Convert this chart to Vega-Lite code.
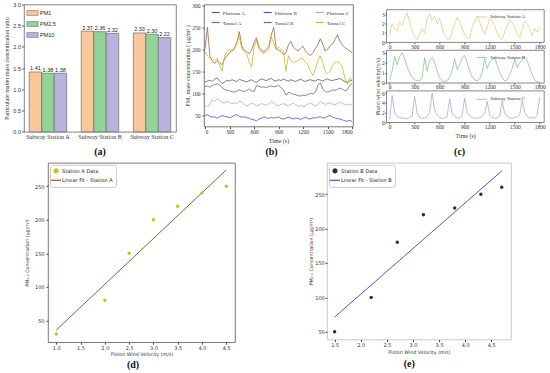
{"$schema":"https://vega.github.io/schema/vega-lite/v6.json","background":"white","padding":{"left":3,"top":1.5,"right":0,"bottom":0},"config":{"view":{"stroke":null},"axis":{"grid":false}},
"datasets":{
"bars":[{"station":"Subway Station A","pm":"PM1","ratio":1.41},{"station":"Subway Station A","pm":"PM2.5","ratio":1.38},{"station":"Subway Station A","pm":"PM10","ratio":1.38},{"station":"Subway Station B","pm":"PM1","ratio":2.37},{"station":"Subway Station B","pm":"PM2.5","ratio":2.36},{"station":"Subway Station B","pm":"PM10","ratio":2.32},{"station":"Subway Station C","pm":"PM1","ratio":2.33},{"station":"Subway Station C","pm":"PM2.5","ratio":2.30},{"station":"Subway Station C","pm":"PM10","ratio":2.22}],
"ts":[
{"series":"Platform A","t":0,"v":125},{"series":"Platform A","t":30,"v":128},{"series":"Platform A","t":60,"v":130},{"series":"Platform A","t":90,"v":127},{"series":"Platform A","t":120,"v":133},{"series":"Platform A","t":150,"v":135},{"series":"Platform A","t":180,"v":128},{"series":"Platform A","t":210,"v":122},{"series":"Platform A","t":240,"v":126},{"series":"Platform A","t":270,"v":130},{"series":"Platform A","t":300,"v":128},{"series":"Platform A","t":330,"v":131},{"series":"Platform A","t":360,"v":129},{"series":"Platform A","t":390,"v":127},{"series":"Platform A","t":420,"v":132},{"series":"Platform A","t":450,"v":130},{"series":"Platform A","t":480,"v":128},{"series":"Platform A","t":510,"v":126},{"series":"Platform A","t":540,"v":129},{"series":"Platform A","t":570,"v":131},{"series":"Platform A","t":600,"v":127},{"series":"Platform A","t":630,"v":125},{"series":"Platform A","t":660,"v":130},{"series":"Platform A","t":690,"v":133},{"series":"Platform A","t":720,"v":131},{"series":"Platform A","t":750,"v":129},{"series":"Platform A","t":780,"v":132},{"series":"Platform A","t":810,"v":134},{"series":"Platform A","t":840,"v":130},{"series":"Platform A","t":870,"v":128},{"series":"Platform A","t":900,"v":131},{"series":"Platform A","t":930,"v":129},{"series":"Platform A","t":960,"v":133},{"series":"Platform A","t":990,"v":130},{"series":"Platform A","t":1020,"v":128},{"series":"Platform A","t":1050,"v":131},{"series":"Platform A","t":1080,"v":129},{"series":"Platform A","t":1110,"v":127},{"series":"Platform A","t":1140,"v":130},{"series":"Platform A","t":1170,"v":132},{"series":"Platform A","t":1200,"v":129},{"series":"Platform A","t":1230,"v":127},{"series":"Platform A","t":1260,"v":130},{"series":"Platform A","t":1290,"v":131},{"series":"Platform A","t":1320,"v":129},{"series":"Platform A","t":1350,"v":128},{"series":"Platform A","t":1380,"v":132},{"series":"Platform A","t":1410,"v":130},{"series":"Platform A","t":1440,"v":128},{"series":"Platform A","t":1470,"v":131},{"series":"Platform A","t":1500,"v":133},{"series":"Platform A","t":1530,"v":130},{"series":"Platform A","t":1560,"v":129},{"series":"Platform A","t":1590,"v":131},{"series":"Platform A","t":1620,"v":132},{"series":"Platform A","t":1650,"v":134},{"series":"Platform A","t":1680,"v":130},{"series":"Platform A","t":1710,"v":127},{"series":"Platform A","t":1740,"v":125},{"series":"Platform A","t":1770,"v":128},{"series":"Platform A","t":1800,"v":130},
{"series":"Tunnel A","t":0,"v":200},{"series":"Tunnel A","t":30,"v":250},{"series":"Tunnel A","t":60,"v":185},{"series":"Tunnel A","t":90,"v":172},{"series":"Tunnel A","t":120,"v":168},{"series":"Tunnel A","t":150,"v":175},{"series":"Tunnel A","t":180,"v":170},{"series":"Tunnel A","t":210,"v":165},{"series":"Tunnel A","t":240,"v":178},{"series":"Tunnel A","t":270,"v":185},{"series":"Tunnel A","t":300,"v":192},{"series":"Tunnel A","t":330,"v":198},{"series":"Tunnel A","t":360,"v":202},{"series":"Tunnel A","t":390,"v":215},{"series":"Tunnel A","t":420,"v":240},{"series":"Tunnel A","t":450,"v":208},{"series":"Tunnel A","t":480,"v":198},{"series":"Tunnel A","t":510,"v":195},{"series":"Tunnel A","t":540,"v":190},{"series":"Tunnel A","t":570,"v":198},{"series":"Tunnel A","t":600,"v":215},{"series":"Tunnel A","t":630,"v":226},{"series":"Tunnel A","t":660,"v":205},{"series":"Tunnel A","t":690,"v":198},{"series":"Tunnel A","t":720,"v":194},{"series":"Tunnel A","t":750,"v":200},{"series":"Tunnel A","t":780,"v":206},{"series":"Tunnel A","t":810,"v":232},{"series":"Tunnel A","t":840,"v":250},{"series":"Tunnel A","t":870,"v":202},{"series":"Tunnel A","t":900,"v":198},{"series":"Tunnel A","t":930,"v":195},{"series":"Tunnel A","t":960,"v":188},{"series":"Tunnel A","t":990,"v":192},{"series":"Tunnel A","t":1020,"v":210},{"series":"Tunnel A","t":1050,"v":218},{"series":"Tunnel A","t":1080,"v":205},{"series":"Tunnel A","t":1110,"v":200},{"series":"Tunnel A","t":1140,"v":196},{"series":"Tunnel A","t":1170,"v":203},{"series":"Tunnel A","t":1200,"v":207},{"series":"Tunnel A","t":1230,"v":196},{"series":"Tunnel A","t":1260,"v":190},{"series":"Tunnel A","t":1290,"v":186},{"series":"Tunnel A","t":1320,"v":192},{"series":"Tunnel A","t":1350,"v":202},{"series":"Tunnel A","t":1380,"v":210},{"series":"Tunnel A","t":1410,"v":224},{"series":"Tunnel A","t":1440,"v":212},{"series":"Tunnel A","t":1470,"v":196},{"series":"Tunnel A","t":1500,"v":200},{"series":"Tunnel A","t":1530,"v":208},{"series":"Tunnel A","t":1560,"v":212},{"series":"Tunnel A","t":1590,"v":222},{"series":"Tunnel A","t":1620,"v":233},{"series":"Tunnel A","t":1650,"v":218},{"series":"Tunnel A","t":1680,"v":210},{"series":"Tunnel A","t":1710,"v":204},{"series":"Tunnel A","t":1740,"v":200},{"series":"Tunnel A","t":1770,"v":196},{"series":"Tunnel A","t":1800,"v":192},
{"series":"Platform B","t":0,"v":50},{"series":"Platform B","t":30,"v":52},{"series":"Platform B","t":60,"v":48},{"series":"Platform B","t":90,"v":46},{"series":"Platform B","t":120,"v":47},{"series":"Platform B","t":150,"v":44},{"series":"Platform B","t":180,"v":47},{"series":"Platform B","t":210,"v":50},{"series":"Platform B","t":240,"v":48},{"series":"Platform B","t":270,"v":47},{"series":"Platform B","t":300,"v":45},{"series":"Platform B","t":330,"v":47},{"series":"Platform B","t":360,"v":50},{"series":"Platform B","t":390,"v":52},{"series":"Platform B","t":420,"v":48},{"series":"Platform B","t":450,"v":46},{"series":"Platform B","t":480,"v":47},{"series":"Platform B","t":510,"v":45},{"series":"Platform B","t":540,"v":44},{"series":"Platform B","t":570,"v":41},{"series":"Platform B","t":600,"v":40},{"series":"Platform B","t":630,"v":38},{"series":"Platform B","t":660,"v":42},{"series":"Platform B","t":690,"v":44},{"series":"Platform B","t":720,"v":47},{"series":"Platform B","t":750,"v":45},{"series":"Platform B","t":780,"v":43},{"series":"Platform B","t":810,"v":46},{"series":"Platform B","t":840,"v":44},{"series":"Platform B","t":870,"v":45},{"series":"Platform B","t":900,"v":47},{"series":"Platform B","t":930,"v":43},{"series":"Platform B","t":960,"v":42},{"series":"Platform B","t":990,"v":44},{"series":"Platform B","t":1020,"v":46},{"series":"Platform B","t":1050,"v":44},{"series":"Platform B","t":1080,"v":42},{"series":"Platform B","t":1110,"v":44},{"series":"Platform B","t":1140,"v":43},{"series":"Platform B","t":1170,"v":41},{"series":"Platform B","t":1200,"v":44},{"series":"Platform B","t":1230,"v":46},{"series":"Platform B","t":1260,"v":43},{"series":"Platform B","t":1290,"v":42},{"series":"Platform B","t":1320,"v":45},{"series":"Platform B","t":1350,"v":44},{"series":"Platform B","t":1380,"v":46},{"series":"Platform B","t":1410,"v":47},{"series":"Platform B","t":1440,"v":44},{"series":"Platform B","t":1470,"v":45},{"series":"Platform B","t":1500,"v":48},{"series":"Platform B","t":1530,"v":50},{"series":"Platform B","t":1560,"v":46},{"series":"Platform B","t":1590,"v":44},{"series":"Platform B","t":1620,"v":43},{"series":"Platform B","t":1650,"v":42},{"series":"Platform B","t":1680,"v":40},{"series":"Platform B","t":1710,"v":38},{"series":"Platform B","t":1740,"v":37},{"series":"Platform B","t":1770,"v":39},{"series":"Platform B","t":1800,"v":36},
{"series":"Tunnel B","t":0,"v":115},{"series":"Tunnel B","t":30,"v":117},{"series":"Tunnel B","t":60,"v":114},{"series":"Tunnel B","t":90,"v":118},{"series":"Tunnel B","t":120,"v":120},{"series":"Tunnel B","t":150,"v":122},{"series":"Tunnel B","t":180,"v":119},{"series":"Tunnel B","t":210,"v":113},{"series":"Tunnel B","t":240,"v":109},{"series":"Tunnel B","t":270,"v":107},{"series":"Tunnel B","t":300,"v":106},{"series":"Tunnel B","t":330,"v":104},{"series":"Tunnel B","t":360,"v":103},{"series":"Tunnel B","t":390,"v":105},{"series":"Tunnel B","t":420,"v":108},{"series":"Tunnel B","t":450,"v":106},{"series":"Tunnel B","t":480,"v":104},{"series":"Tunnel B","t":510,"v":107},{"series":"Tunnel B","t":540,"v":110},{"series":"Tunnel B","t":570,"v":106},{"series":"Tunnel B","t":600,"v":104},{"series":"Tunnel B","t":630,"v":118},{"series":"Tunnel B","t":660,"v":116},{"series":"Tunnel B","t":690,"v":114},{"series":"Tunnel B","t":720,"v":115},{"series":"Tunnel B","t":750,"v":113},{"series":"Tunnel B","t":780,"v":116},{"series":"Tunnel B","t":810,"v":117},{"series":"Tunnel B","t":840,"v":115},{"series":"Tunnel B","t":870,"v":116},{"series":"Tunnel B","t":900,"v":118},{"series":"Tunnel B","t":930,"v":113},{"series":"Tunnel B","t":960,"v":108},{"series":"Tunnel B","t":990,"v":96},{"series":"Tunnel B","t":1020,"v":102},{"series":"Tunnel B","t":1050,"v":101},{"series":"Tunnel B","t":1080,"v":98},{"series":"Tunnel B","t":1110,"v":97},{"series":"Tunnel B","t":1140,"v":95},{"series":"Tunnel B","t":1170,"v":94},{"series":"Tunnel B","t":1200,"v":96},{"series":"Tunnel B","t":1230,"v":95},{"series":"Tunnel B","t":1260,"v":98},{"series":"Tunnel B","t":1290,"v":100},{"series":"Tunnel B","t":1320,"v":99},{"series":"Tunnel B","t":1350,"v":103},{"series":"Tunnel B","t":1380,"v":118},{"series":"Tunnel B","t":1410,"v":124},{"series":"Tunnel B","t":1440,"v":110},{"series":"Tunnel B","t":1470,"v":104},{"series":"Tunnel B","t":1500,"v":103},{"series":"Tunnel B","t":1530,"v":105},{"series":"Tunnel B","t":1560,"v":108},{"series":"Tunnel B","t":1590,"v":107},{"series":"Tunnel B","t":1620,"v":109},{"series":"Tunnel B","t":1650,"v":112},{"series":"Tunnel B","t":1680,"v":110},{"series":"Tunnel B","t":1710,"v":106},{"series":"Tunnel B","t":1740,"v":108},{"series":"Tunnel B","t":1770,"v":118},{"series":"Tunnel B","t":1800,"v":122},
{"series":"Platform C","t":0,"v":72},{"series":"Platform C","t":30,"v":70},{"series":"Platform C","t":60,"v":76},{"series":"Platform C","t":90,"v":85},{"series":"Platform C","t":120,"v":82},{"series":"Platform C","t":150,"v":88},{"series":"Platform C","t":180,"v":84},{"series":"Platform C","t":210,"v":80},{"series":"Platform C","t":240,"v":78},{"series":"Platform C","t":270,"v":82},{"series":"Platform C","t":300,"v":80},{"series":"Platform C","t":330,"v":76},{"series":"Platform C","t":360,"v":79},{"series":"Platform C","t":390,"v":77},{"series":"Platform C","t":420,"v":83},{"series":"Platform C","t":450,"v":80},{"series":"Platform C","t":480,"v":75},{"series":"Platform C","t":510,"v":72},{"series":"Platform C","t":540,"v":74},{"series":"Platform C","t":570,"v":78},{"series":"Platform C","t":600,"v":76},{"series":"Platform C","t":630,"v":72},{"series":"Platform C","t":660,"v":74},{"series":"Platform C","t":690,"v":77},{"series":"Platform C","t":720,"v":75},{"series":"Platform C","t":750,"v":73},{"series":"Platform C","t":780,"v":76},{"series":"Platform C","t":810,"v":82},{"series":"Platform C","t":840,"v":78},{"series":"Platform C","t":870,"v":74},{"series":"Platform C","t":900,"v":72},{"series":"Platform C","t":930,"v":75},{"series":"Platform C","t":960,"v":77},{"series":"Platform C","t":990,"v":74},{"series":"Platform C","t":1020,"v":72},{"series":"Platform C","t":1050,"v":75},{"series":"Platform C","t":1080,"v":78},{"series":"Platform C","t":1110,"v":74},{"series":"Platform C","t":1140,"v":71},{"series":"Platform C","t":1170,"v":73},{"series":"Platform C","t":1200,"v":70},{"series":"Platform C","t":1230,"v":72},{"series":"Platform C","t":1260,"v":76},{"series":"Platform C","t":1290,"v":78},{"series":"Platform C","t":1320,"v":75},{"series":"Platform C","t":1350,"v":72},{"series":"Platform C","t":1380,"v":74},{"series":"Platform C","t":1410,"v":82},{"series":"Platform C","t":1440,"v":78},{"series":"Platform C","t":1470,"v":75},{"series":"Platform C","t":1500,"v":77},{"series":"Platform C","t":1530,"v":79},{"series":"Platform C","t":1560,"v":76},{"series":"Platform C","t":1590,"v":74},{"series":"Platform C","t":1620,"v":78},{"series":"Platform C","t":1650,"v":80},{"series":"Platform C","t":1680,"v":77},{"series":"Platform C","t":1710,"v":75},{"series":"Platform C","t":1740,"v":73},{"series":"Platform C","t":1770,"v":76},{"series":"Platform C","t":1800,"v":74},
{"series":"Tunnel C","t":0,"v":195},{"series":"Tunnel C","t":30,"v":185},{"series":"Tunnel C","t":60,"v":180},{"series":"Tunnel C","t":90,"v":176},{"series":"Tunnel C","t":120,"v":175},{"series":"Tunnel C","t":150,"v":180},{"series":"Tunnel C","t":180,"v":162},{"series":"Tunnel C","t":210,"v":150},{"series":"Tunnel C","t":240,"v":185},{"series":"Tunnel C","t":270,"v":195},{"series":"Tunnel C","t":300,"v":200},{"series":"Tunnel C","t":330,"v":195},{"series":"Tunnel C","t":360,"v":200},{"series":"Tunnel C","t":390,"v":215},{"series":"Tunnel C","t":420,"v":230},{"series":"Tunnel C","t":450,"v":200},{"series":"Tunnel C","t":480,"v":195},{"series":"Tunnel C","t":510,"v":190},{"series":"Tunnel C","t":540,"v":172},{"series":"Tunnel C","t":570,"v":160},{"series":"Tunnel C","t":600,"v":205},{"series":"Tunnel C","t":630,"v":220},{"series":"Tunnel C","t":660,"v":200},{"series":"Tunnel C","t":690,"v":195},{"series":"Tunnel C","t":720,"v":190},{"series":"Tunnel C","t":750,"v":195},{"series":"Tunnel C","t":780,"v":200},{"series":"Tunnel C","t":810,"v":228},{"series":"Tunnel C","t":840,"v":214},{"series":"Tunnel C","t":870,"v":200},{"series":"Tunnel C","t":900,"v":205},{"series":"Tunnel C","t":930,"v":200},{"series":"Tunnel C","t":960,"v":195},{"series":"Tunnel C","t":990,"v":150},{"series":"Tunnel C","t":1020,"v":185},{"series":"Tunnel C","t":1050,"v":175},{"series":"Tunnel C","t":1080,"v":170},{"series":"Tunnel C","t":1110,"v":172},{"series":"Tunnel C","t":1140,"v":175},{"series":"Tunnel C","t":1170,"v":180},{"series":"Tunnel C","t":1200,"v":178},{"series":"Tunnel C","t":1230,"v":170},{"series":"Tunnel C","t":1260,"v":165},{"series":"Tunnel C","t":1290,"v":150},{"series":"Tunnel C","t":1320,"v":140},{"series":"Tunnel C","t":1350,"v":155},{"series":"Tunnel C","t":1380,"v":175},{"series":"Tunnel C","t":1410,"v":185},{"series":"Tunnel C","t":1440,"v":170},{"series":"Tunnel C","t":1470,"v":150},{"series":"Tunnel C","t":1500,"v":145},{"series":"Tunnel C","t":1530,"v":150},{"series":"Tunnel C","t":1560,"v":165},{"series":"Tunnel C","t":1590,"v":170},{"series":"Tunnel C","t":1620,"v":172},{"series":"Tunnel C","t":1650,"v":168},{"series":"Tunnel C","t":1680,"v":160},{"series":"Tunnel C","t":1710,"v":135},{"series":"Tunnel C","t":1740,"v":120},{"series":"Tunnel C","t":1770,"v":135},{"series":"Tunnel C","t":1800,"v":130}],
"wA":[{"series":"Subway Station A","t":0,"v":0.8},{"series":"Subway Station A","t":30,"v":2.0},{"series":"Subway Station A","t":60,"v":1.5},{"series":"Subway Station A","t":90,"v":1.2},{"series":"Subway Station A","t":120,"v":2.2},{"series":"Subway Station A","t":150,"v":1.8},{"series":"Subway Station A","t":180,"v":2.6},{"series":"Subway Station A","t":210,"v":3.2},{"series":"Subway Station A","t":240,"v":2.2},{"series":"Subway Station A","t":270,"v":1.2},{"series":"Subway Station A","t":300,"v":0.6},{"series":"Subway Station A","t":330,"v":0.3},{"series":"Subway Station A","t":360,"v":0.8},{"series":"Subway Station A","t":390,"v":1.5},{"series":"Subway Station A","t":420,"v":1.0},{"series":"Subway Station A","t":450,"v":2.5},{"series":"Subway Station A","t":480,"v":3.1},{"series":"Subway Station A","t":510,"v":2.4},{"series":"Subway Station A","t":540,"v":2.8},{"series":"Subway Station A","t":570,"v":2.0},{"series":"Subway Station A","t":600,"v":2.6},{"series":"Subway Station A","t":630,"v":1.5},{"series":"Subway Station A","t":660,"v":0.8},{"series":"Subway Station A","t":690,"v":0.4},{"series":"Subway Station A","t":720,"v":0.3},{"series":"Subway Station A","t":750,"v":1.2},{"series":"Subway Station A","t":780,"v":2.0},{"series":"Subway Station A","t":810,"v":2.7},{"series":"Subway Station A","t":840,"v":2.2},{"series":"Subway Station A","t":870,"v":1.5},{"series":"Subway Station A","t":900,"v":0.8},{"series":"Subway Station A","t":930,"v":0.4},{"series":"Subway Station A","t":960,"v":0.5},{"series":"Subway Station A","t":990,"v":1.6},{"series":"Subway Station A","t":1020,"v":2.3},{"series":"Subway Station A","t":1050,"v":2.8},{"series":"Subway Station A","t":1080,"v":2.2},{"series":"Subway Station A","t":1110,"v":1.4},{"series":"Subway Station A","t":1140,"v":0.9},{"series":"Subway Station A","t":1170,"v":1.6},{"series":"Subway Station A","t":1200,"v":2.6},{"series":"Subway Station A","t":1230,"v":2.4},{"series":"Subway Station A","t":1260,"v":1.8},{"series":"Subway Station A","t":1290,"v":1.0},{"series":"Subway Station A","t":1320,"v":0.5},{"series":"Subway Station A","t":1350,"v":0.3},{"series":"Subway Station A","t":1380,"v":1.1},{"series":"Subway Station A","t":1410,"v":1.8},{"series":"Subway Station A","t":1440,"v":2.4},{"series":"Subway Station A","t":1470,"v":2.2},{"series":"Subway Station A","t":1500,"v":1.6},{"series":"Subway Station A","t":1530,"v":0.9},{"series":"Subway Station A","t":1560,"v":0.5},{"series":"Subway Station A","t":1590,"v":1.4},{"series":"Subway Station A","t":1620,"v":2.3},{"series":"Subway Station A","t":1650,"v":2.0},{"series":"Subway Station A","t":1680,"v":1.5},{"series":"Subway Station A","t":1710,"v":0.7},{"series":"Subway Station A","t":1740,"v":1.5},{"series":"Subway Station A","t":1770,"v":1.1},{"series":"Subway Station A","t":1800,"v":1.6}],
"wB":[{"series":"Subway Station B","t":0,"v":0.3},{"series":"Subway Station B","t":30,"v":1.2},{"series":"Subway Station B","t":60,"v":2.6},{"series":"Subway Station B","t":90,"v":1.8},{"series":"Subway Station B","t":120,"v":2.6},{"series":"Subway Station B","t":150,"v":3.0},{"series":"Subway Station B","t":180,"v":2.4},{"series":"Subway Station B","t":210,"v":1.6},{"series":"Subway Station B","t":240,"v":1.0},{"series":"Subway Station B","t":270,"v":0.5},{"series":"Subway Station B","t":300,"v":0.3},{"series":"Subway Station B","t":330,"v":0.2},{"series":"Subway Station B","t":360,"v":0.2},{"series":"Subway Station B","t":390,"v":0.5},{"series":"Subway Station B","t":420,"v":2.5},{"series":"Subway Station B","t":450,"v":1.2},{"series":"Subway Station B","t":480,"v":2.2},{"series":"Subway Station B","t":510,"v":2.5},{"series":"Subway Station B","t":540,"v":2.0},{"series":"Subway Station B","t":570,"v":1.2},{"series":"Subway Station B","t":600,"v":0.5},{"series":"Subway Station B","t":630,"v":0.2},{"series":"Subway Station B","t":660,"v":0.1},{"series":"Subway Station B","t":690,"v":0.2},{"series":"Subway Station B","t":720,"v":0.6},{"series":"Subway Station B","t":750,"v":1.2},{"series":"Subway Station B","t":780,"v":2.4},{"series":"Subway Station B","t":810,"v":1.3},{"series":"Subway Station B","t":840,"v":1.8},{"series":"Subway Station B","t":870,"v":2.5},{"series":"Subway Station B","t":900,"v":2.7},{"series":"Subway Station B","t":930,"v":2.0},{"series":"Subway Station B","t":960,"v":1.2},{"series":"Subway Station B","t":990,"v":0.6},{"series":"Subway Station B","t":1020,"v":0.3},{"series":"Subway Station B","t":1050,"v":0.2},{"series":"Subway Station B","t":1080,"v":0.4},{"series":"Subway Station B","t":1110,"v":1.0},{"series":"Subway Station B","t":1140,"v":2.4},{"series":"Subway Station B","t":1170,"v":1.4},{"series":"Subway Station B","t":1200,"v":2.0},{"series":"Subway Station B","t":1230,"v":2.3},{"series":"Subway Station B","t":1260,"v":2.5},{"series":"Subway Station B","t":1290,"v":1.8},{"series":"Subway Station B","t":1320,"v":1.0},{"series":"Subway Station B","t":1350,"v":0.5},{"series":"Subway Station B","t":1380,"v":0.2},{"series":"Subway Station B","t":1410,"v":0.3},{"series":"Subway Station B","t":1440,"v":0.8},{"series":"Subway Station B","t":1470,"v":1.4},{"series":"Subway Station B","t":1500,"v":2.4},{"series":"Subway Station B","t":1530,"v":1.5},{"series":"Subway Station B","t":1560,"v":2.0},{"series":"Subway Station B","t":1590,"v":2.3},{"series":"Subway Station B","t":1620,"v":2.6},{"series":"Subway Station B","t":1650,"v":2.2},{"series":"Subway Station B","t":1680,"v":1.5},{"series":"Subway Station B","t":1710,"v":0.8},{"series":"Subway Station B","t":1740,"v":0.3},{"series":"Subway Station B","t":1770,"v":0.1},{"series":"Subway Station B","t":1800,"v":0.1}],
"wC":[{"series":"Subway Station C","t":0,"v":0.5},{"series":"Subway Station C","t":30,"v":5.5},{"series":"Subway Station C","t":60,"v":2.0},{"series":"Subway Station C","t":90,"v":1.2},{"series":"Subway Station C","t":120,"v":1.0},{"series":"Subway Station C","t":150,"v":0.8},{"series":"Subway Station C","t":180,"v":0.9},{"series":"Subway Station C","t":210,"v":0.7},{"series":"Subway Station C","t":240,"v":1.0},{"series":"Subway Station C","t":270,"v":1.2},{"series":"Subway Station C","t":300,"v":5.3},{"series":"Subway Station C","t":330,"v":2.0},{"series":"Subway Station C","t":360,"v":1.0},{"series":"Subway Station C","t":390,"v":0.8},{"series":"Subway Station C","t":420,"v":0.9},{"series":"Subway Station C","t":450,"v":1.2},{"series":"Subway Station C","t":480,"v":2.0},{"series":"Subway Station C","t":510,"v":6.0},{"series":"Subway Station C","t":540,"v":2.5},{"series":"Subway Station C","t":570,"v":1.5},{"series":"Subway Station C","t":600,"v":1.0},{"series":"Subway Station C","t":630,"v":0.8},{"series":"Subway Station C","t":660,"v":0.9},{"series":"Subway Station C","t":690,"v":1.2},{"series":"Subway Station C","t":720,"v":4.8},{"series":"Subway Station C","t":750,"v":1.8},{"series":"Subway Station C","t":780,"v":1.2},{"series":"Subway Station C","t":810,"v":1.0},{"series":"Subway Station C","t":840,"v":0.8},{"series":"Subway Station C","t":870,"v":1.5},{"series":"Subway Station C","t":900,"v":5.0},{"series":"Subway Station C","t":930,"v":2.0},{"series":"Subway Station C","t":960,"v":1.3},{"series":"Subway Station C","t":990,"v":1.0},{"series":"Subway Station C","t":1020,"v":0.9},{"series":"Subway Station C","t":1050,"v":0.8},{"series":"Subway Station C","t":1080,"v":1.0},{"series":"Subway Station C","t":1110,"v":1.2},{"series":"Subway Station C","t":1140,"v":1.8},{"series":"Subway Station C","t":1170,"v":4.3},{"series":"Subway Station C","t":1200,"v":1.5},{"series":"Subway Station C","t":1230,"v":1.0},{"series":"Subway Station C","t":1260,"v":0.8},{"series":"Subway Station C","t":1290,"v":0.9},{"series":"Subway Station C","t":1320,"v":1.3},{"series":"Subway Station C","t":1350,"v":4.4},{"series":"Subway Station C","t":1380,"v":1.8},{"series":"Subway Station C","t":1410,"v":1.2},{"series":"Subway Station C","t":1440,"v":0.9},{"series":"Subway Station C","t":1470,"v":0.8},{"series":"Subway Station C","t":1500,"v":1.0},{"series":"Subway Station C","t":1530,"v":1.1},{"series":"Subway Station C","t":1560,"v":1.5},{"series":"Subway Station C","t":1590,"v":4.5},{"series":"Subway Station C","t":1620,"v":2.0},{"series":"Subway Station C","t":1650,"v":1.2},{"series":"Subway Station C","t":1680,"v":0.9},{"series":"Subway Station C","t":1710,"v":1.0},{"series":"Subway Station C","t":1740,"v":0.8},{"series":"Subway Station C","t":1770,"v":1.5},{"series":"Subway Station C","t":1800,"v":5.2}],
"stA":[{"s":"Station A Data","x":1.0,"y":30},{"s":"Station A Data","x":2.0,"y":80},{"s":"Station A Data","x":2.5,"y":150},{"s":"Station A Data","x":3.0,"y":200},{"s":"Station A Data","x":3.5,"y":220},{"s":"Station A Data","x":4.0,"y":240},{"s":"Station A Data","x":4.5,"y":250}],
"fitA":[{"s":"Linear Fit - Station A","x":1.0,"y":35.8},{"s":"Linear Fit - Station A","x":4.5,"y":274.2}],
"stB":[{"s":"Station B Data","x":1.5,"y":50},{"s":"Station B Data","x":2.2,"y":100},{"s":"Station B Data","x":2.7,"y":180},{"s":"Station B Data","x":3.2,"y":220},{"s":"Station B Data","x":3.8,"y":230},{"s":"Station B Data","x":4.3,"y":250},{"s":"Station B Data","x":4.7,"y":260}],
"fitB":[{"s":"Linear Fit - Station B","x":1.5,"y":71.5},{"s":"Linear Fit - Station B","x":4.7,"y":283.8}]
},
"resolve":{"scale":{"x":"independent","y":"independent","color":"independent","shape":"independent"},"legend":{"color":"independent","shape":"independent"}},
"bounds":"flush","spacing":158.3,
"vconcat":[
{"hconcat":[
 {"width":152,"height":127.3,"data":{"name":"bars"},"view":{"stroke":"#666666","strokeWidth":0.8},
  "title":{"text":"(a)","orient":"bottom","frame":"group","offset":7,"font":"Liberation Serif","fontSize":10,"fontWeight":"bold","color":"#111111"},
  "encoding":{
   "x":{"field":"station","type":"nominal","sort":null,"scale":{"paddingInner":0.28,"paddingOuter":0.1},"axis":{"title":null,"labelAngle":0,"labelFont":"Liberation Serif","labelFontSize":6,"labelColor":"#333333","ticks":false,"domain":false,"labelPadding":2}},
   "xOffset":{"field":"pm","type":"nominal","sort":null,"scale":{"paddingInner":0,"paddingOuter":0}},
   "y":{"field":"ratio","type":"quantitative","scale":{"domain":[0,3],"nice":false},"axis":{"values":[0,0.5,1,1.5,2,2.5,3],"format":".1f","title":"Particulate matter mass concentration ratio","titleFont":"Liberation Serif","titleFontSize":6,"titleFontWeight":"normal","titleColor":"#333333","titlePadding":3,"labelFont":"Liberation Sans","labelFontSize":5.5,"labelColor":"#333333","tickSize":2.5,"tickColor":"#666666","domain":false,"labelPadding":1}}
  },
  "layer":[
   {"mark":{"type":"bar","stroke":"#6b6b6b","strokeWidth":0.7},"encoding":{"color":{"field":"pm","type":"nominal","sort":null,"scale":{"domain":["PM1","PM2.5","PM10"],"range":["#F8C89C","#92D495","#B8B3DD"]},"legend":{"title":null,"orient":"top-left","offset":3,"padding":1,"symbolType":"M-1.4,-0.6H1.4V0.6H-1.4Z","symbolSize":64,"symbolStrokeColor":"#6b6b6b","symbolStrokeWidth":0.6,"symbolOpacity":1,"labelFont":"Liberation Sans","labelFontSize":5.5,"labelColor":"#222222","rowPadding":2,"labelOffset":3}}}},
   {"mark":{"type":"text","baseline":"bottom","dy":-0.5,"font":"Liberation Sans","fontSize":5.5,"color":"#222222"},"encoding":{"text":{"field":"ratio","type":"quantitative","format":".2f"}}}
  ]
 },
 {"hconcat":[
  {"width":149,"height":122,"data":{"name":"ts"},"view":{"stroke":"#555555","strokeWidth":0.8},
   "title":{"text":"(b)","orient":"bottom","frame":"group","offset":3.5,"dx":-7,"font":"Liberation Serif","fontSize":10,"fontWeight":"bold","color":"#111111"},
   "mark":{"type":"line","strokeWidth":0.8,"clip":true},
   "encoding":{
    "x":{"field":"t","type":"quantitative","scale":{"domain":[-12,1810],"nice":false,"zero":false},"axis":{"values":[0,300,600,900,1200,1500,1800],"format":"d","title":"Time (s)","titleFont":"Liberation Serif","titleFontSize":6,"titleFontWeight":"normal","titleColor":"#333333","titlePadding":2,"labelFont":"Liberation Serif","labelFontSize":5.5,"labelColor":"#333333","tickSize":2,"tickColor":"#555555","domain":false,"labelPadding":1}},
    "y":{"field":"v","type":"quantitative","scale":{"domain":[25,301.6],"nice":false,"zero":false},"axis":{"values":[50,100,150,200,250,300],"title":"PM₁ mass concentration ( μg/m³ )","titleFont":"Liberation Serif","titleFontSize":6,"titleFontWeight":"normal","titleColor":"#333333","titlePadding":1,"labelFont":"Liberation Serif","labelFontSize":5.5,"labelColor":"#333333","tickSize":2,"tickColor":"#555555","domain":false,"labelPadding":2}},
    "color":{"field":"series","type":"nominal","scale":{"domain":["Platform A","Platform B","Platform C","Tunnel A","Tunnel B","Tunnel C"],"range":["#565e58","#4a52cf","#b9a2e2","#a3623a","#4f7c5e","#c9b91c"]},"legend":{"title":null,"orient":"none","legendX":6.7,"legendY":3,"columns":3,"direction":"horizontal","symbolType":"stroke","symbolSize":64,"symbolStrokeWidth":1.2,"labelFont":"Liberation Serif","labelFontSize":5,"labelColor":"#333333","labelOffset":2,"columnPadding":15,"rowPadding":2,"padding":0}}
   }
  },
  {"vconcat":[
   {"width":1,"height":1,"data":{"values":[{"k":0}]},"mark":{"type":"point","opacity":0},"encoding":{}},
   {"vconcat":[
    {"width":157.7,"height":32.7,"data":{"name":"wA"},"view":{"stroke":"#555555","strokeWidth":0.7},
     "mark":{"type":"line","strokeWidth":0.7,"clip":true},
     "encoding":{
      "x":{"field":"t","type":"quantitative","scale":{"domain":[-40,1852],"nice":false,"zero":false},"axis":{"values":[0,300,600,900,1200,1500,1800],"format":"d","title":null,"labelFont":"Liberation Serif","labelFontSize":5.5,"labelColor":"#333333","tickSize":1.5,"tickColor":"#555555","domain":false,"labelPadding":0.5}},
      "y":{"field":"v","type":"quantitative","scale":{"domain":[0,3.55],"nice":false},"axis":{"values":[0,1,2,3],"title":null,"labelFont":"Liberation Serif","labelFontSize":5.5,"labelColor":"#333333","tickSize":1.5,"tickColor":"#555555","domain":false,"labelPadding":0.5}},
      "color":{"field":"series","type":"nominal","scale":{"range":["#E2C36E"]},"legend":{"title":null,"orient":"none","legendX":90,"legendY":2,"symbolType":"stroke","symbolSize":100,"symbolStrokeWidth":0.8,"labelFont":"Liberation Serif","labelFontSize":4.8,"labelColor":"#333333","labelOffset":3,"padding":0}}
     }
    },
    {"width":157.7,"height":32.7,"data":{"name":"wB"},"view":{"stroke":"#555555","strokeWidth":0.7},
     "mark":{"type":"line","strokeWidth":0.7,"clip":true},
     "encoding":{
      "x":{"field":"t","type":"quantitative","scale":{"domain":[-40,1852],"nice":false,"zero":false},"axis":{"values":[0,300,600,900,1200,1500,1800],"format":"d","title":null,"labelFont":"Liberation Serif","labelFontSize":5.5,"labelColor":"#333333","tickSize":1.5,"tickColor":"#555555","domain":false,"labelPadding":0.5}},
      "y":{"field":"v","type":"quantitative","scale":{"domain":[0,3.25],"nice":false},"axis":{"values":[0,1,2,3],"title":"Piston wind velocity(m/s)","titleY":36,"titleFont":"Liberation Serif","titleFontSize":5.5,"titleFontWeight":"normal","titleColor":"#333333","titlePadding":1.5,"labelFont":"Liberation Serif","labelFontSize":5.5,"labelColor":"#333333","tickSize":1.5,"tickColor":"#555555","domain":false,"labelPadding":0.5}},
      "color":{"field":"series","type":"nominal","scale":{"range":["#78C07A"]},"legend":{"title":null,"orient":"none","legendX":90,"legendY":2,"symbolType":"stroke","symbolSize":100,"symbolStrokeWidth":0.8,"labelFont":"Liberation Serif","labelFontSize":4.8,"labelColor":"#333333","labelOffset":3,"padding":0}}
     }
    },
    {"width":157.7,"height":31.6,"data":{"name":"wC"},"view":{"stroke":"#555555","strokeWidth":0.7},
     "title":{"text":"(c)","orient":"bottom","frame":"group","offset":8.3,"dx":-5.5,"font":"Liberation Serif","fontSize":10,"fontWeight":"bold","color":"#111111"},
     "mark":{"type":"line","strokeWidth":0.7,"clip":true},
     "encoding":{
      "x":{"field":"t","type":"quantitative","scale":{"domain":[-40,1852],"nice":false,"zero":false},"axis":{"values":[0,300,600,900,1200,1500,1800],"format":"d","title":"Time (s)","titleFont":"Liberation Serif","titleFontSize":6,"titleFontWeight":"normal","titleColor":"#333333","titlePadding":2.5,"labelFont":"Liberation Serif","labelFontSize":5.5,"labelColor":"#333333","tickSize":1.5,"tickColor":"#555555","domain":false,"labelPadding":0.5}},
      "y":{"field":"v","type":"quantitative","scale":{"domain":[0,6.5],"nice":false},"axis":{"values":[0,2,4,6],"title":null,"labelFont":"Liberation Serif","labelFontSize":5.5,"labelColor":"#333333","tickSize":1.5,"tickColor":"#555555","domain":false,"labelPadding":0.5}},
      "color":{"field":"series","type":"nominal","scale":{"range":["#A89AD6"]},"legend":{"title":null,"orient":"none","legendX":90,"legendY":3,"symbolType":"stroke","symbolSize":100,"symbolStrokeWidth":0.8,"labelFont":"Liberation Serif","labelFontSize":4.8,"labelColor":"#333333","labelOffset":3,"padding":0}}
     }
    }
   ],"spacing":7.6,"bounds":"flush","resolve":{"scale":{"x":"independent","y":"independent","color":"independent"},"legend":{"color":"independent"}}}
  ],"spacing":4,"bounds":"flush","resolve":{"scale":{"x":"independent","y":"independent","color":"independent"},"legend":{"color":"independent"}}}
 ],"spacing":33.3,"bounds":"flush","resolve":{"scale":{"x":"independent","y":"independent","color":"independent"},"legend":{"color":"independent"}}}
],"spacing":28,"bounds":"flush","resolve":{"scale":{"x":"independent","y":"independent","color":"independent","xOffset":"independent"},"legend":{"color":"independent"}}},
{"hconcat":[
 {"width":1,"height":1,"data":{"values":[{"k":0}]},"mark":{"type":"point","opacity":0},"encoding":{}},
 {"hconcat":[
  {"width":187,"height":179.4,"view":{"stroke":"#6a5050","strokeWidth":0.8},
   "title":{"text":"(d)","orient":"bottom","frame":"group","offset":3,"dx":-8.5,"font":"Liberation Serif","fontSize":10,"fontWeight":"bold","color":"#111111"},
   "encoding":{
    "x":{"field":"x","type":"quantitative","scale":{"domain":[0.83,4.68],"nice":false,"zero":false},"axis":{"values":[1,1.5,2,2.5,3,3.5,4,4.5],"format":".1f","title":"Piston Wind Velocity (m/s)","titleFont":"DejaVu Sans","titleFontSize":4.8,"titleFontWeight":"normal","titleColor":"#333333","titlePadding":1.7,"labelFont":"DejaVu Sans","labelFontSize":5,"labelColor":"#333333","tickSize":2,"tickColor":"#444444","domain":false,"labelPadding":1}},
    "y":{"field":"y","type":"quantitative","scale":{"domain":[17.7,284.8],"nice":false,"zero":false},"axis":{"values":[50,100,150,200,250],"title":"PM₂.₅ Concentration (μg/m³)","titleFont":"DejaVu Sans","titleFontSize":4.8,"titleFontWeight":"normal","titleColor":"#333333","titlePadding":4.5,"labelFont":"DejaVu Sans","labelFontSize":5,"labelColor":"#333333","tickSize":2,"tickColor":"#444444","domain":false,"labelPadding":2}},
    "color":{"field":"s","type":"nominal","scale":{"domain":["Station A Data","Linear Fit - Station A"],"range":["#C2C21C","#9B5A30"]},"legend":{"title":null,"orient":"top-left","offset":2,"padding":3,"strokeColor":"#cccccc","fillColor":"white","cornerRadius":2,"labelFont":"DejaVu Sans","labelFontSize":5,"labelColor":"#222222","labelOffset":3,"rowPadding":1.5,"symbolSize":100,"symbolStrokeWidth":1.2,"encode":{"symbols":{"update":{"stroke":{"signal":"datum.value === 'Linear Fit - Station A' ? '#9B5A30' : 'transparent'"},"size":{"signal":"datum.value === 'Linear Fit - Station A' ? 100 : 16"}}}}}}
   },
   "layer":[
    {"data":{"name":"fitA"},"mark":{"type":"line","strokeWidth":1,"clip":true}},
    {"data":{"name":"stA"},"mark":{"type":"point","filled":true,"size":12,"opacity":1},"encoding":{"shape":{"field":"s","type":"nominal","scale":{"domain":["Station A Data","Linear Fit - Station A"],"range":["circle","stroke"]},"legend":{"title":null,"orient":"top-left","offset":2,"padding":3,"strokeColor":"#cccccc","fillColor":"white","cornerRadius":2,"labelFont":"DejaVu Sans","labelFontSize":5,"labelColor":"#222222","labelOffset":3,"rowPadding":1.5,"symbolSize":100,"symbolStrokeWidth":1.2,"encode":{"symbols":{"update":{"stroke":{"signal":"datum.value === 'Linear Fit - Station A' ? '#9B5A30' : 'transparent'"},"size":{"signal":"datum.value === 'Linear Fit - Station A' ? 100 : 16"}}}}}}}}
   ]
  },
  {"width":184,"height":176.7,"view":{"stroke":"#bbbbbb","strokeWidth":0.8},
   "title":{"text":"(e)","orient":"bottom","frame":"group","offset":5,"dx":-9.7,"font":"Liberation Serif","fontSize":10,"fontWeight":"bold","color":"#111111"},
   "encoding":{
    "x":{"field":"x","type":"quantitative","scale":{"domain":[1.354,4.877],"nice":false,"zero":false},"axis":{"values":[1.5,2,2.5,3,3.5,4,4.5],"format":".1f","title":"Piston Wind Velocity (m/s)","titleFont":"DejaVu Sans","titleFontSize":4.8,"titleFontWeight":"normal","titleColor":"#333333","titlePadding":2.5,"labelFont":"DejaVu Sans","labelFontSize":5,"labelColor":"#333333","tickSize":2,"tickColor":"#444444","domain":false,"labelPadding":0.5}},
    "y":{"field":"y","type":"quantitative","scale":{"domain":[38.8,295.6],"nice":false,"zero":false},"axis":{"values":[50,100,150,200,250],"title":"PM₂.₅ Concentration (μg/m³)","titleFont":"DejaVu Sans","titleFontSize":4.8,"titleFontWeight":"normal","titleColor":"#333333","titlePadding":1.2,"labelFont":"DejaVu Sans","labelFontSize":5,"labelColor":"#333333","tickSize":2,"tickColor":"#444444","domain":false,"labelPadding":0.7}},
    "color":{"field":"s","type":"nominal","scale":{"domain":["Station B Data","Linear Fit - Station B"],"range":["#1E3A1E","#5B4FD8"]},"legend":{"title":null,"orient":"top-left","offset":2,"padding":3,"strokeColor":"#cccccc","fillColor":"white","cornerRadius":2,"labelFont":"DejaVu Sans","labelFontSize":5,"labelColor":"#222222","labelOffset":3,"rowPadding":1.5,"symbolSize":100,"symbolStrokeWidth":1.2,"encode":{"symbols":{"update":{"stroke":{"signal":"datum.value === 'Linear Fit - Station B' ? '#5B4FD8' : 'transparent'"},"size":{"signal":"datum.value === 'Linear Fit - Station B' ? 100 : 16"}}}}}}
   },
   "layer":[
    {"data":{"name":"fitB"},"mark":{"type":"line","strokeWidth":1,"clip":true}},
    {"data":{"name":"stB"},"mark":{"type":"point","filled":true,"size":12,"opacity":1},"encoding":{"shape":{"field":"s","type":"nominal","scale":{"domain":["Station B Data","Linear Fit - Station B"],"range":["circle","stroke"]},"legend":{"title":null,"orient":"top-left","offset":2,"padding":3,"strokeColor":"#cccccc","fillColor":"white","cornerRadius":2,"labelFont":"DejaVu Sans","labelFontSize":5,"labelColor":"#222222","labelOffset":3,"rowPadding":1.5,"symbolSize":100,"symbolStrokeWidth":1.2,"encode":{"symbols":{"update":{"stroke":{"signal":"datum.value === 'Linear Fit - Station B' ? '#5B4FD8' : 'transparent'"},"size":{"signal":"datum.value === 'Linear Fit - Station B' ? 100 : 16"}}}}}}}}
   ]
  }
 ],"spacing":92,"bounds":"flush","resolve":{"scale":{"x":"independent","y":"independent","color":"independent","shape":"independent"},"legend":{"color":"independent","shape":"independent"}}}
],"spacing":23,"bounds":"flush","resolve":{"scale":{"x":"independent","y":"independent","color":"independent","shape":"independent"},"legend":{"color":"independent","shape":"independent"}}}
]}
